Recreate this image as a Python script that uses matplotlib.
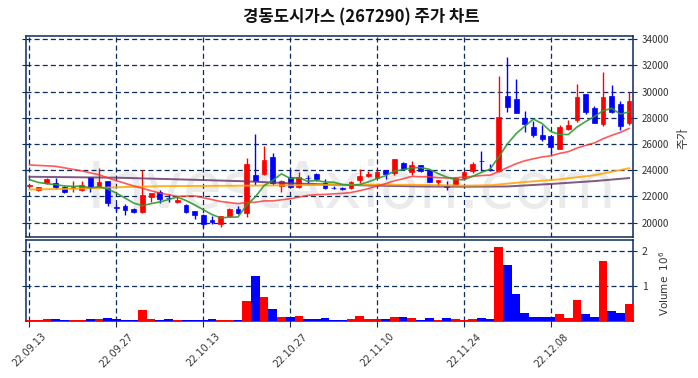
import numpy as np
import pandas as pd
import matplotlib
matplotlib.use("Agg")
import matplotlib.pyplot as plt

plt.rcParams['font.family'] = ['Noto Sans CJK KR', 'DejaVu Sans']

tick_pos = [0, 10, 20, 30, 40, 50, 60]
tick_labels = ['22.09.13', '22.09.27', '22.10.13', '22.10.27', '22.11.10', '22.11.24', '22.12.08']

opens = [22800, 22500, 23000, 23050, 22750, 22620, 22500, 23480, 22700, 23150,
         21200, 21240, 21060, 20780, 21950, 22340, 21900, 21550, 21370, 20860,
         20600, 20220, 19890, 20480, 21040, 20730, 23600, 23710, 25030, 22800,
         23450, 22700, 23420, 23730, 23000, 22680, 22650, 22640, 23280, 23530,
         23400, 24020, 23790, 24580, 23890, 24370, 24000, 23120, 22800, 22900,
         23420, 23970, 24720, 24070, 23920, 29670, 29440, 27960, 27300, 26700,
         26600, 25650, 27180, 27850, 29820, 28720, 27560, 29640, 29050, 27620]
highs = [22950, 22750, 23400, 23400, 22780, 23150, 23200, 23500, 24200, 23200,
         21420, 21420, 21150, 23990, 22260, 22470, 22200, 21950, 21420, 20900,
         20650, 20480, 20480, 21100, 21240, 24930, 26780, 25820, 25290, 23230,
         23990, 23830, 23660, 23750, 23330, 22800, 22700, 23180, 24090, 23940,
         23990, 24050, 24850, 24600, 24700, 24400, 24020, 23250, 23200, 23500,
         23900, 24640, 25450, 24500, 31200, 32660, 30980, 28500, 27770, 27420,
         26600, 27490, 27800, 30590, 29850, 28920, 31490, 30510, 29260, 29950]
lows = [22750, 22450, 22950, 22600, 22250, 22330, 22450, 22330, 22650, 21300,
        20900, 20560, 20700, 20740, 21570, 21500, 21550, 21500, 20700, 20270,
        19670, 19890, 19670, 20430, 20650, 20430, 22900, 23650, 22840, 22360,
        22700, 22650, 23020, 23150, 22600, 22580, 22460, 22600, 23020, 23480,
        23380, 23330, 23630, 24100, 23630, 23880, 23100, 22820, 22500, 22850,
        23400, 23790, 23920, 23920, 23900, 28420, 28350, 26900, 26500, 26200,
        25300, 25600, 27050, 27700, 28330, 27600, 27380, 28350, 27080, 27450]
closes = [22900, 22750, 23350, 22700, 22300, 22720, 22850, 22700, 23070, 21500,
          21150, 20940, 20780, 22100, 22260, 21800, 21850, 21750, 20780, 20600,
          19920, 20020, 20480, 21040, 20700, 24470, 23150, 24780, 23020, 23200,
          22700, 23470, 23380, 23330, 22620, 22620, 22600, 23100, 23580, 23680,
          23860, 23710, 24850, 24120, 24370, 23910, 23130, 23220, 22750, 23420,
          23840, 24460, 24680, 24020, 28060, 28830, 28370, 27550, 26700, 26350,
          25750, 27330, 27490, 29560, 28460, 27640, 29560, 28410, 27380, 29280]
volumes = [0.02, 0.03, 0.05, 0.05, 0.03, 0.02, 0.03, 0.05, 0.05, 0.09,
           0.05, 0.03, 0.03, 0.31, 0.05, 0.02, 0.05, 0.02, 0.02, 0.02,
           0.02, 0.05, 0.02, 0.02, 0.02, 0.57, 1.29, 0.67, 0.34, 0.11,
           0.11, 0.14, 0.05, 0.05, 0.08, 0.03, 0.03, 0.05, 0.14, 0.05,
           0.05, 0.05, 0.11, 0.11, 0.08, 0.03, 0.08, 0.02, 0.08, 0.05,
           0.03, 0.05, 0.08, 0.05, 2.11, 1.60, 0.77, 0.23, 0.12, 0.12,
           0.12, 0.20, 0.09, 0.60, 0.20, 0.12, 1.70, 0.29, 0.23, 0.49]

# moving averages: early values (prior history not shown)
ma5_early = [23280, 23070, 22970, 22900]
ma20_early_x = [0, 3, 6, 8, 10, 12, 15, 17]
ma20_early = [24400, 24300, 23950, 23650, 23200, 22800, 22250, 22000]
ma60_x = [0, 5, 10, 15, 20, 25, 30, 35, 40, 45, 50, 53, 57, 61, 65, 69]
ma60 = [22530, 22580, 22700, 22780, 22800, 22820, 22850, 22880, 22900, 22880,
        22820, 22850, 23100, 23300, 23620, 24150]
ma120_x = [0, 10, 20, 25, 30, 35, 40, 45, 50, 55, 60, 65, 69]
ma120 = [23500, 23430, 23250, 23150, 23000, 22900, 22820, 22760, 22740, 22760,
         22950, 23170, 23400]

n = len(closes)
x = np.arange(n)
c = pd.Series(closes, dtype=float)
ma5_calc = c.rolling(5).mean()
ma20_calc = c.rolling(20).mean()
ma5_x = list(range(4)) + list(range(4, n))
ma5 = ma5_early + list(ma5_calc[4:])
ma20_x = ma20_early_x + list(range(19, n))
ma20 = ma20_early + list(ma20_calc[19:])

W, H = 698, 378
fig = plt.figure(figsize=(W / 100, H / 100), dpi=100)
ax1 = fig.add_axes([26 / W, 1 - 237 / H, 607 / W, 201 / H])
ax2 = fig.add_axes([26 / W, 1 - 321 / H, 607 / W, 81 / H])

navy = '#0b2b5c'
up, down = '#ff0000', '#0000ff'
cols = [up if cl >= op else down for op, cl in zip(opens, closes)]

ax1.text((352 - 26) / 607, (237 - 190) / 201, 'InvestAxion.com', fontsize=46,
         color='#ebebeb', ha='center', va='center', family='DejaVu Sans',
         transform=ax1.transAxes, zorder=0.3)

# candles
for i in range(n):
    ax1.vlines(x[i], lows[i], highs[i], color=cols[i], linewidth=1.0, zorder=2)
    lo = min(opens[i], closes[i])
    h = abs(closes[i] - opens[i])
    if h < 40:
        h = 40
        lo = (opens[i] + closes[i]) / 2 - 20
    ax1.bar(x[i], h, bottom=lo, width=0.55, color=cols[i], edgecolor=cols[i],
            linewidth=0.5, zorder=3)

ax1.plot(ma120_x, ma120, color='#6b3a6e', linewidth=1.4, alpha=0.85, zorder=4)
ax1.plot(ma60_x, ma60, color='#ffa500', linewidth=1.4, alpha=0.85, zorder=4)
ax1.plot(ma20_x, ma20, color='#ff3030', linewidth=1.2, alpha=0.8, zorder=4)
ax1.plot(ma5_x, ma5, color='#2e9a2e', linewidth=1.2, alpha=0.9, zorder=4)

ax1.set_xlim(-0.4, 69.45)
ax1.set_ylim(18900, 34250)
ax1.set_yticks(range(20000, 34001, 2000))
ax1.set_xticks(tick_pos)
ax1.tick_params(axis='x', labelbottom=False, length=0)
ax1.tick_params(axis='y', left=True, right=True, labelleft=False, labelright=True,
                labelsize=7, colors='#333333', length=3, color=navy)
ax1.grid(True, linestyle=(0, (4, 2.5)), color=navy, linewidth=0.9, zorder=1)
for s in ax1.spines.values():
    s.set_color(navy)
    s.set_linewidth(1.1)

ax2.bar(x, [v * 1e6 for v in volumes], width=1.0, color=cols, zorder=3)
ax2.set_xlim(-0.4, 69.45)
ax2.set_ylim(0, 2.3e6)
ax2.set_yticks([1e6, 2e6])
ax2.set_yticklabels(['1', '2'])
ax2.set_xticks(tick_pos)
ax2.set_xticklabels(tick_labels, rotation=45, ha='center', family='DejaVu Sans')
ax2.tick_params(axis='x', labelsize=7, colors='#333333', length=4, color=navy)
ax2.tick_params(axis='y', left=True, right=True, labelleft=False, labelright=True,
                labelsize=7.5, colors='#333333', length=3, color=navy)
ax2.grid(True, linestyle=(0, (4, 2.5)), color=navy, linewidth=0.9)
for s in ax2.spines.values():
    s.set_color(navy)
    s.set_linewidth(1.1)

fig.text(361 / W, 1 - 17 / H, '경동도시가스 (267290) 주가 차트', fontsize=12,
         fontweight='bold', ha='center', va='center', color='#111111')
fig.text(683 / W, 1 - 138 / H, '주가', fontsize=8.5, rotation=90,
         ha='center', va='center', color='#333333')
fig.text(664 / W, 1 - 283 / H, 'Volume  $10^{6}$', fontsize=7.5, rotation=90,
         ha='center', va='center', color='#333333', family='DejaVu Sans')

fig.savefig('out.png', dpi=100)
